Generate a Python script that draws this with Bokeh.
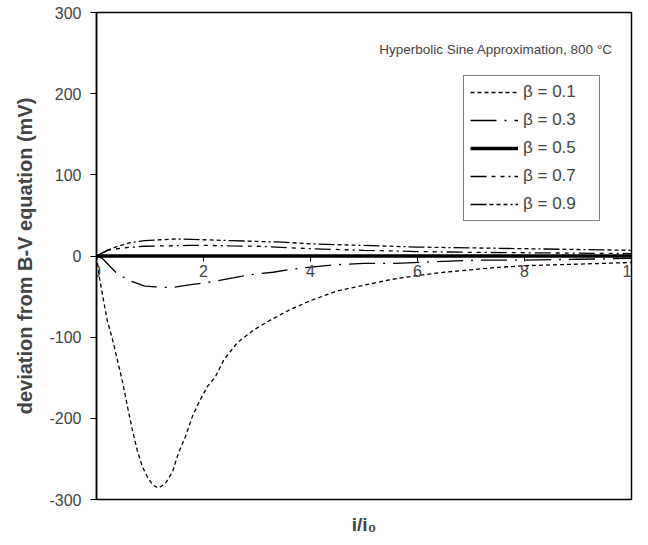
from bokeh.plotting import figure
from bokeh.models import (LinearAxis, Legend, LegendItem, Label, FixedTicker,
                          Range1d)
from bokeh.embed import file_html
from bokeh.resources import INLINE

# ---- data ----
x_b01 = [0, 0.05, 0.13, 0.2, 0.3, 0.39, 0.49, 0.58, 0.67, 0.76, 0.86, 0.95, 1.05,
         1.16, 1.29, 1.42, 1.53, 1.66, 1.79, 1.91, 2.07, 2.22, 2.38, 2.63, 2.94,
         3.25, 3.59, 4.0, 4.5, 5.0, 5.5, 6.0, 6.5, 7.0, 7.5, 8.0, 8.5, 9.0, 9.5, 10]
y_b01 = [0, -25, -54, -79, -103, -128, -156, -186, -214, -239, -260, -272, -282,
         -286, -280, -266, -243, -223, -198, -181, -161, -149, -128, -107, -91,
         -79, -67, -55, -43, -36, -29, -24, -20, -17, -14, -12, -11, -10, -9, -8]

x_b03 = [0, 0.11, 0.36, 0.6, 0.9, 1.1, 1.38, 1.7, 2.13, 2.55, 2.88, 3.3, 3.68,
         4.1, 4.43, 5.0, 5.6, 6.3, 7.2, 8.0, 9.0, 10]
y_b03 = [0, -3, -20, -30, -37, -38, -39, -36, -32, -27, -23, -20, -16,
         -13, -11, -9, -9, -7, -5, -5, -4, -3]

x_b05 = [0, 2, 4, 6, 8, 10]
y_b05 = [0, 0, 0, 0, 0, 0]

x_b07 = [0, 0.2, 0.5, 0.9, 1.3, 1.7, 2.1, 2.5, 3, 4, 5, 6, 7, 8, 9, 10]
y_b07 = [0, 7, 10, 12, 12.5, 13, 13, 12.5, 12, 9, 7, 5.5, 4.5, 4, 3.5, 3]

x_b09 = [0, 0.2, 0.4, 0.6, 0.9, 1.2, 1.5, 2, 2.5, 3, 3.5, 4, 5, 6, 7, 8, 9, 10]
y_b09 = [0, 7, 12, 16, 19, 20, 21, 20, 19, 18, 17, 15, 13, 11, 10, 9, 8, 7]

series_labels = ["\u03b2 = 0.1", "\u03b2 = 0.3", "\u03b2 = 0.5", "\u03b2 = 0.7", "\u03b2 = 0.9"]
x_ticks = [0, 2, 4, 6, 8, 10]
y_ticks = [-300, -200, -100, 0, 100, 200, 300]

FONT = "Liberation Sans"

p = figure(width=646, height=537, output_backend="svg", toolbar_location=None,
           x_range=Range1d(0, 10), y_range=Range1d(-300, 300),
           min_border_left=96, min_border_right=15, min_border_top=12,
           min_border_bottom=38, x_axis_location=None)
p.grid.visible = False
p.outline_line_color = "black"
p.outline_line_width = 1.5
p.background_fill_color = "white"
p.border_fill_color = "white"

# y axis
ya = p.yaxis[0]
ya.ticker = FixedTicker(ticks=y_ticks)
ya.major_label_overrides = {t: str(t) for t in y_ticks}
ya.minor_tick_line_color = None
ya.major_tick_in = 0
ya.major_tick_out = 6
ya.major_tick_line_width = 1.2
ya.axis_line_width = 1.5
ya.major_label_text_font = FONT
ya.major_label_text_font_size = "16px"
ya.major_label_standoff = 9
ya.axis_label = "deviation from B-V equation (mV)"
ya.axis_label_text_font = FONT
ya.axis_label_text_font_size = "20px"
ya.axis_label_text_font_style = "bold"
ya.axis_label_standoff = 10

# x axis drawn along y = 0
xa = LinearAxis(fixed_location=0, ticker=FixedTicker(ticks=x_ticks))
xa.minor_tick_line_color = None
xa.major_tick_in = 0
xa.major_tick_out = 5
xa.major_label_text_font = FONT
xa.major_label_text_font_size = "16px"
xa.major_label_standoff = 4
xa.axis_line_width = 1.2
p.add_layout(xa, "below")

# x axis title at the bottom
xb = LinearAxis(ticker=FixedTicker(ticks=[]), axis_label="i/i\u2080")
xb.axis_line_color = None
xb.major_tick_line_color = None
xb.minor_tick_line_color = None
xb.major_label_text_font_size = "0px"
xb.axis_label_text_font = FONT
xb.axis_label_text_font_size = "19px"
xb.axis_label_text_font_style = "bold"
xb.axis_label_standoff = 14
p.add_layout(xb, "below")

styles = [
    dict(line_dash="4 3", line_width=1.3),
    dict(line_dash="26 8 2 8", line_width=1.3),
    dict(line_dash="solid", line_width=3.5),
    dict(line_dash="16 5 4 5 4 4 2 4", line_width=1.3),
    dict(line_dash="16 3 4 3 4 3 4 3 2 3", line_width=1.3),
]
xs = [x_b01, x_b03, x_b05, x_b07, x_b09]
ys = [y_b01, y_b03, y_b05, y_b07, y_b09]

items = []
for xv, yv, lab, st in zip(xs, ys, series_labels, styles):
    r = p.line(x=xv, y=yv, line_color="black", **st)
    items.append(LegendItem(label=lab, renderers=[r]))

legend = Legend(items=items, location=(367, 278))
legend.label_text_font = FONT
legend.label_text_font_size = "17px"
legend.glyph_width = 48
legend.glyph_height = 14
legend.label_height = 14
legend.label_width = 70
legend.label_standoff = 5
legend.spacing = 8
legend.padding = 6
legend.border_line_color = "black"
legend.border_line_width = 1
legend.background_fill_alpha = 1
legend.margin = 0
p.add_layout(legend, "center")

p.add_layout(Label(x=9.65, y=254, text="Hyperbolic Sine Approximation, 800 \u00b0C",
                   text_align="right", text_baseline="middle",
                   text_font=FONT, text_font_size="13.5px"))

open("out.html", "w").write(file_html(p, INLINE))
